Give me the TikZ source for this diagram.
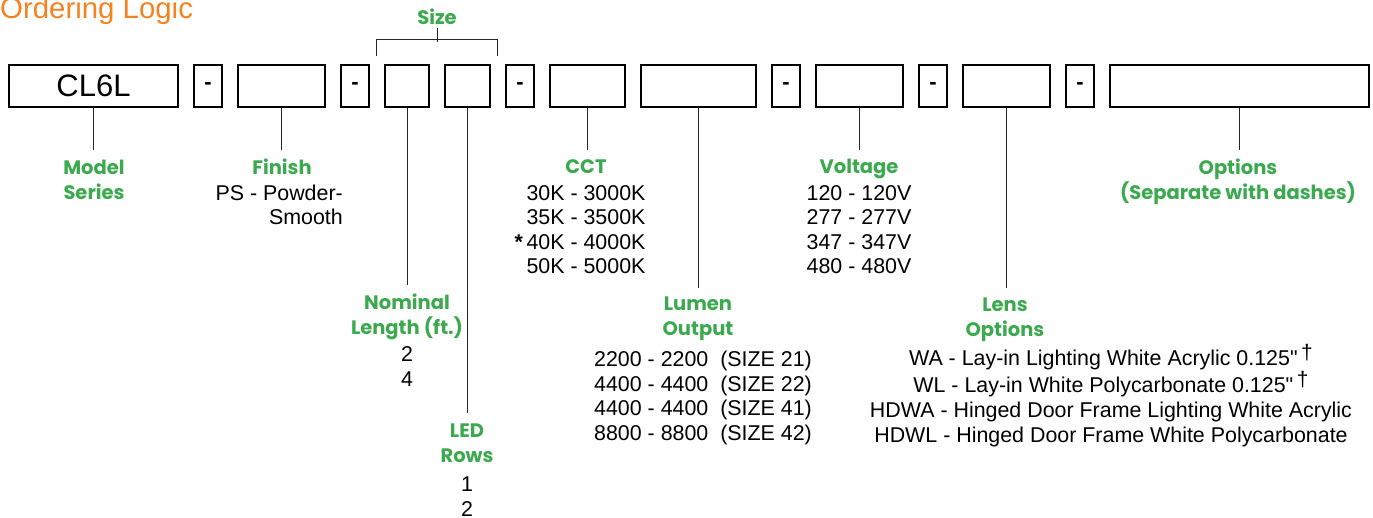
\documentclass[tikz,border=0pt]{standalone}
\usepackage{fontspec}
\setmainfont{Liberation Sans}[Ligatures=TeXOff]
\newfontfamily\headfont{Poppins}
\usetikzlibrary{positioning}
\definecolor{codegreen}{RGB}{59,170,79}
\definecolor{headorange}{RGB}{245,130,32}
\tikzset{
	field/.style   = {shape=rectangle, draw, line width=1.1pt, minimum height=42pt,
		inner sep=0pt, font=\fontsize{31}{32}\selectfont},
	dashbox/.style = {field, minimum width=28pt, font=\fontsize{22}{24}\selectfont\bfseries},
	heading/.style = {anchor=base, align=center, inner sep=0pt, text=codegreen,
		font=\headfont\bfseries\fontsize{19.5}{25}\selectfont},
	values/.style  = {anchor=base, align=center, inner sep=0pt,
		font=\fontsize{21.4}{24.5}\selectfont},
	lead/.style    = {draw, black!85, line width=1pt}
%	bracket/.style = {lead, rounded corners}
}
\newcommand{\dagmark}{\,\raisebox{6pt}{\fontsize{21}{21}\selectfont †}}

\begin{document}
\begin{tikzpicture}
		[
		x                 = 1pt,
		y                 = -1pt,
		node distance     = 14.9pt
		]
		\useasboundingbox (0,0) rectangle (1373,518);
		\node [anchor=base west, inner sep=0pt, text=headorange,
			font=\fontsize{29.4}{30}\selectfont] (logic) at (0,18.5) {Ordering Logic};

		% the row of code boxes
		\node [field, minimum width=169pt] (model) at (93.5,86) {CL6L};
		\node [dashbox, right=of model]  (d1) {-};
		\node [field, minimum width=87pt, right=of d1] (finish) {};
		\node [dashbox, right=of finish] (d2) {-};
		\node [field, minimum width=44pt, right=of d2] (length) {};
		\node [field, minimum width=45pt, right=of length] (rows) {};
		\node [dashbox, right=of rows]   (d3) {-};
		\node [field, minimum width=75pt, right=of d3] (cct) {};
		\node [field, minimum width=115pt, right=of cct] (lumen) {};
		\node [dashbox, right=of lumen]  (d4) {-};
		\node [field, minimum width=87pt, right=of d4] (volt) {};
		\node [dashbox, right=of volt]   (d5) {-};
		\node [field, minimum width=87pt, right=of d5] (lens) {};
		\node [dashbox, right=of lens]   (d6) {-};
		\node [field, minimum width=259pt, right=of d6] (opts) {};

		% green headings (base = baseline of the last line)
		\node [heading] (sizeT)   at (437,25)   {Size};
		\node [heading] (modelT)  at (94,200)   {Model\\Series};
		\node [heading] (finishT) at (282,175)  {Finish};
		\node [heading] (cctT)    at (586,174)  {CCT};
		\node [heading] (voltT)   at (859,174)  {Voltage};
		\node [heading] (optsT)   at (1238,200) {Options\\(Separate with dashes)};
		\node [heading] (lengthT) at (407,335)  {Nominal\\Length (ft.)};
		\node [heading] (lumenT)  at (698,336)  {Lumen\\Output};
		\node [heading] (lensT)   at (1005,337) {Lens\\Options};
		\node [heading] (rowsT)   at (467,462)  {LED\\Rows};

		% choices under each heading
		\node [values, anchor=base east, align=right] (finishV) at (343,225) {PS - Powder-\\Smooth};
		\node [values] (cctV)  at (586,274) {30K - 3000K\\35K - 3500K\\\llap{\textbf{*}\,}40K - 4000K\\50K - 5000K};
		\node [values] (voltV) at (859,274) {120 - 120V\\277 - 277V\\347 - 347V\\480 - 480V};
		\node [values] (lengthV) at (407,386) {2\\4};
		\node [values] (rowsV) at (467,516) {1\\2};
		\node [values] (lumenV) at (703,440) {2200 - 2200\ \ (SIZE 21)\\4400 - 4400\ \ (SIZE 22)\\
			4400 - 4400\ \ (SIZE 41)\\8800 - 8800\ \ (SIZE 42)};
		\node [values, font=\fontsize{21.4}{25}\selectfont] (lensV) at (1111,442)
			{WA - Lay-in Lighting White Acrylic 0.125"\dagmark\\WL - Lay-in White Polycarbonate 0.125"\dagmark\\
			HDWA - Hinged Door Frame Lighting White Acrylic\\HDWL - Hinged Door Frame White Polycarbonate};

		% leader lines from the boxes down to the headings
		\foreach \b/\t/\l in {model/modelT/50, finish/finishT/25, length/lengthT/50, rows/rowsT/49,
			cct/cctT/24, lumen/lumenT/48, volt/voltT/24, lens/lensT/49, opts/optsT/50}
			\draw [lead] (\b.south) -- ([yshift=\l pt]\t.base -| \b.south);

		% size bracket over the two size boxes
		\coordinate (sizeL) at ([shift={(-8pt,25pt)}]length.north west);
		\coordinate (sizeR) at ([shift={(7pt,25pt)}]rows.north east);
		\draw [lead] ([shift={(-8pt,8pt)}]length.north west) -- (sizeL) -- (sizeR) -- ([shift={(7pt,8pt)}]rows.north east);
		\draw [lead] ([yshift=-3pt]sizeT.base) -- ([yshift=-3pt]sizeT.base |- sizeL);
	\end{tikzpicture}
\end{document}
